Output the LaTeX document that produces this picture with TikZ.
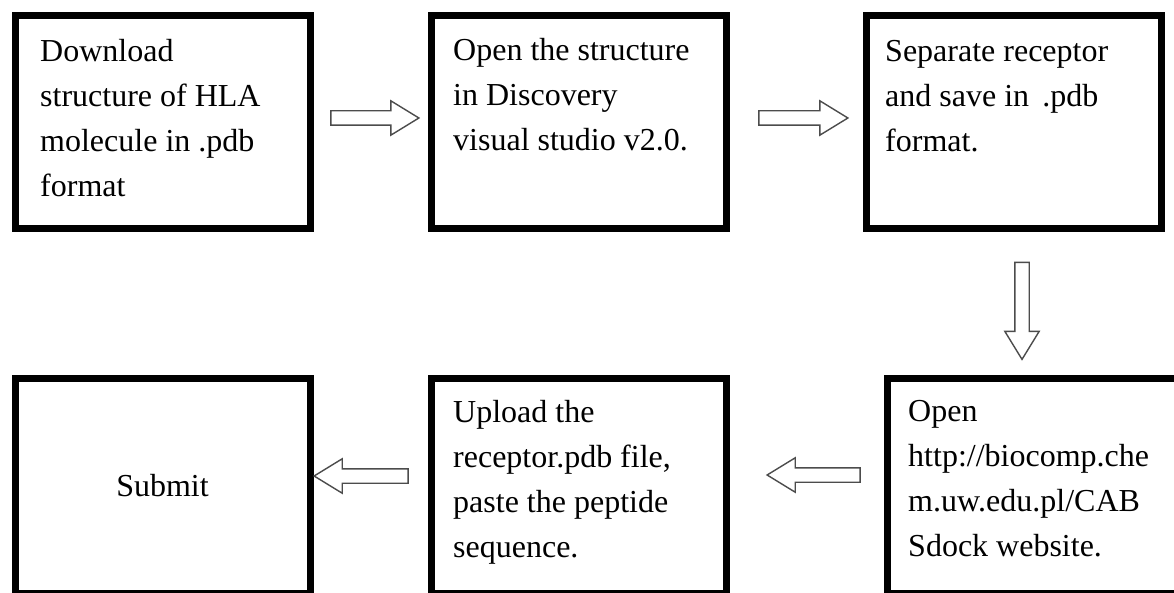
\documentclass[tikz,border=0pt]{standalone}
\usepackage{fontspec}
\setmainfont{Liberation Serif}
\usetikzlibrary{shapes.arrows}
\begin{document}
\begin{tikzpicture}[x=1pt,y=-1pt,
  stepbox/.style={draw=black, line width=7pt, rectangle, minimum width=295pt, minimum height=213pt, inner sep=0pt},
  tallbox/.style={stepbox, minimum height=215pt},
  steptext/.style={anchor=north west, inner sep=0pt, align=left, font=\fontsize{32}{45}\selectfont},
  blockarrow/.style={single arrow, draw=black!70, line width=1.4pt, fill=white,
    inner xsep=0pt, inner ysep=6.5pt, minimum width=0pt,
    single arrow head extend=10pt, single arrow tip angle=63}]
  \useasboundingbox (0,0) rectangle (1174,593);
  \clip (0,0) rectangle (1174,593);
  \fill[white] (0,0) rectangle (1174,593);

  % process boxes, top row left to right, bottom row right to left
  \node[stepbox] (b1) at (162.5,122) {};
  \node[stepbox] (b2) at (578.5,122) {};
  \node[stepbox] (b3) at (1013.5,122) {};
  \node[tallbox] (b6) at (1034.5,486) {};
  \node[tallbox] (b5) at (578.5,486) {};
  \node[tallbox] (b4) at (162.5,486) {};

  % box texts
  \node[steptext] (t1) at (40,39) {Download\\structure of HLA\\molecule in .pdb\\format};
  \node[steptext] (t2) at (453,38) {Open the structure\\in Discovery\\visual studio v2.0.};
  \node[steptext] (t3) at (885,40) {Separate receptor\\and save in \,.pdb\\format.};
  \node[steptext] (t6) at (908,400) {Open\\http://biocomp.che\\m.uw.edu.pl/CAB\\Sdock website.};
  \node[steptext] (t5) at (453,400) {Upload the\\receptor.pdb file,\\paste the peptide\\sequence.};
  \node[font=\fontsize{32}{45}\selectfont, inner sep=0pt] (t4) at (b4.center) {Submit};

  % block arrows between the steps
  \node[blockarrow, minimum height=88pt] (a1) at (369,118) {};
  \node[blockarrow, minimum height=89pt] (a2) at (797.5,118) {};
  \node[blockarrow, minimum height=97pt, rotate=-90] (a3) at (1022,305) {};
  \node[blockarrow, minimum height=93pt, rotate=180] (a4) at (819.5,475) {};
  \node[blockarrow, minimum height=94pt, rotate=180] (a5) at (367,476) {};
\end{tikzpicture}
\end{document}
